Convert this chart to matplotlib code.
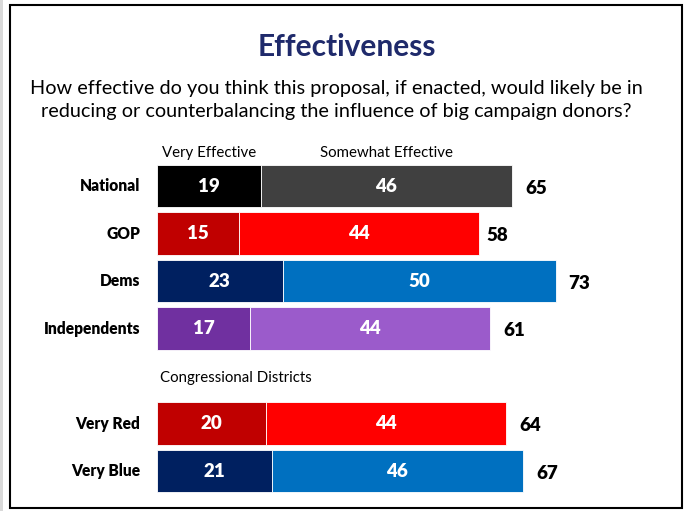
import matplotlib
matplotlib.use("Agg")
import matplotlib.pyplot as plt
from matplotlib.patches import Rectangle

# ---------------------------
# Datos
# ---------------------------
grupos = ["National", "GOP", "Dems", "Independents", "Very Red", "Very Blue"]
posiciones = [0, 1, 2, 3, 5, 6]          # hueco para "Congressional Districts"
muy_efectivo = [19, 15, 23, 17, 20, 21]
algo_efectivo = [46, 44, 50, 44, 44, 46]
totales = [65, 58, 73, 61, 64, 67]

colores_muy = ["#000000", "#C00000", "#002060", "#7030A0", "#C00000", "#002060"]
colores_algo = ["#404040", "#FF0000", "#0070C0", "#9B5BCB", "#FF0000", "#0070C0"]

titulo = "Effectiveness"
pregunta = ("How effective do you think this proposal, if enacted, would likely be in\n"
            "reducing or counterbalancing the influence of big campaign donors?")

plt.rcParams['font.family'] = ['Lato', 'DejaVu Sans']

W, H = 685, 511
fig = plt.figure(figsize=(W / 100, H / 100), dpi=100)

# marco del slide
fig.patches.append(Rectangle((10 / W, 3 / H), 672 / W, 503 / H, transform=fig.transFigure,
                             fill=False, edgecolor="black", linewidth=1.5))
fig.patches.append(Rectangle((0, 0), 3 / W, 1, transform=fig.transFigure,
                             facecolor="#D9D9D9", edgecolor="none"))

fig.text(347 / W, 1 - 47 / H, titulo, ha="center", va="center",
         fontsize=21.5, fontweight="bold", color="#1F2A6B")
fig.text(336.5 / W, 1 - 100 / H, pregunta, ha="center", va="center",
         fontsize=14.3, color="black", linespacing=1.38)

# ---------------------------
# Ejes de barras
# ---------------------------
x0 = 157
px_por_unidad = 5.46
xmax = 95
pitch = 47.5
y_top = 186 - pitch / 2
alto_ax = 7 * pitch
ax = fig.add_axes([x0 / W, 1 - (y_top + alto_ax) / H, xmax * px_por_unidad / W, alto_ax / H])
ax.set_xlim(0, xmax)
ax.set_ylim(6.5, -0.5)
ax.axis("off")

alto = 0.885
ax.barh(posiciones, muy_efectivo, height=alto, color=colores_muy, edgecolor="white", linewidth=0.6)
ax.barh(posiciones, algo_efectivo, left=muy_efectivo, height=alto, color=colores_algo,
        edgecolor="white", linewidth=0.6)

for y, g, a, b, t in zip(posiciones, grupos, muy_efectivo, algo_efectivo, totales):
    ax.text(a / 2, y, str(a), ha="center", va="center", color="white",
            fontsize=13.5, fontweight="heavy")
    ax.text(a + b / 2, y, str(b), ha="center", va="center", color="white",
            fontsize=13.5, fontweight="heavy")
    ax.text(t + 2.4, y + 0.05, str(t), ha="left", va="center", color="black",
            fontsize=13.5, fontweight="heavy")
    ax.text(-3.1, y, g, ha="right", va="center", color="black",
            fontsize=11.2, fontweight="heavy")

# encabezados
ax.text(muy_efectivo[0] / 2, -0.69, "Very Effective", ha="center", va="center", fontsize=10.8)
ax.text(muy_efectivo[0] + algo_efectivo[0] / 2, -0.69, "Somewhat Effective",
        ha="center", va="center", fontsize=10.8)
ax.text(0.5, 4.04, "Congressional Districts", ha="left", va="center", fontsize=10.8)

fig.savefig("out.png", dpi=100)
